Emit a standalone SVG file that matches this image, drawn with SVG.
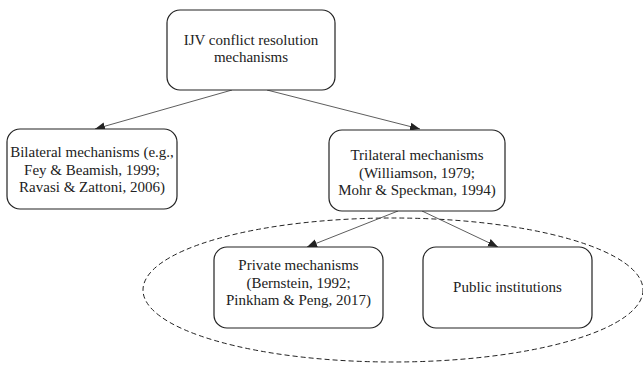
<svg xmlns="http://www.w3.org/2000/svg" width="643" height="365" viewBox="0 0 643 365">
<style>
.box{fill:#fff;stroke:#222;stroke-width:1.2}
.t{font-family:"Liberation Serif","Times New Roman","DejaVu Serif",serif;font-size:15px;fill:#222;text-anchor:middle}
.c{stroke:#333;stroke-width:0.8;fill:none;marker-end:url(#ah)}
</style>
<defs>
<marker id="ah" viewBox="0 0 10 10" refX="10" refY="5" markerWidth="10" markerHeight="10" markerUnits="userSpaceOnUse" orient="auto">
<path d="M0,1 L10,5 L0,9 Z" fill="#222"/>
</marker>
</defs>
<ellipse id="group-ellipse" cx="393" cy="290" rx="250" ry="72" fill="none" stroke="#222" stroke-width="1" stroke-dasharray="5,3"/>
<g id="connectors">
<line class="c" x1="232" y1="90" x2="95" y2="129"/>
<line class="c" x1="267" y1="90" x2="420" y2="129"/>
<line class="c" x1="398" y1="211" x2="307" y2="247"/>
<line class="c" x1="422" y1="211" x2="498" y2="247"/>
</g>
<g id="root">
<rect class="box" x="167" y="10" width="168" height="80" rx="13"/>
<text class="t" x="251" y="45" font-family="Liberation Serif, serif">IJV conflict resolution</text>
<text class="t" x="251" y="62" font-family="Liberation Serif, serif">mechanisms</text>
</g>
<g id="bilateral">
<rect class="box" x="7" y="129" width="170" height="80" rx="13"/>
<text class="t" x="92" y="157">Bilateral mechanisms (e.g.,</text>
<text class="t" x="92" y="174.5">Fey &amp; Beamish, 1999;</text>
<text class="t" x="92" y="192">Ravasi &amp; Zattoni, 2006)</text>
</g>
<g id="trilateral">
<rect class="box" x="329" y="130" width="176" height="81" rx="13"/>
<text class="t" x="417" y="160">Trilateral mechanisms</text>
<text class="t" x="417" y="177.5">(Williamson, 1979;</text>
<text class="t" x="417" y="195">Mohr &amp; Speckman, 1994)</text>
</g>
<g id="private">
<rect class="box" x="214" y="247" width="169" height="81" rx="13"/>
<text class="t" x="298.5" y="270">Private mechanisms</text>
<text class="t" x="298.5" y="287.5">(Bernstein, 1992;</text>
<text class="t" x="298.5" y="305">Pinkham &amp; Peng, 2017)</text>
</g>
<g id="public">
<rect class="box" x="423" y="247" width="169" height="81" rx="13"/>
<text class="t" x="507.5" y="292">Public institutions</text>
</g>
</svg>
